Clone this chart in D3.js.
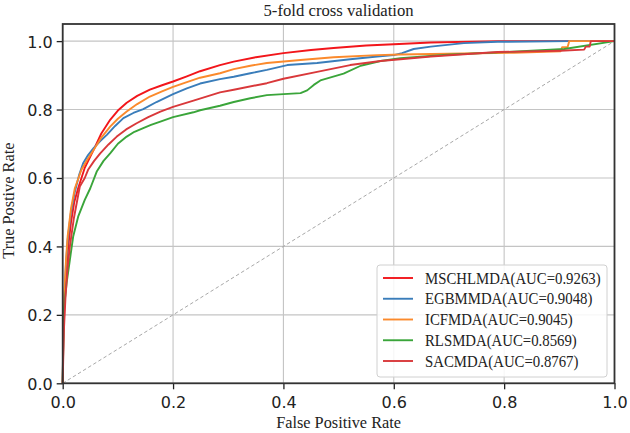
<!DOCTYPE html>
<html><head><meta charset="utf-8">
<script src="https://cdn.jsdelivr.net/npm/d3@7"></script>
<style>body{margin:0;background:#fff}svg{display:block}</style>
</head><body><svg id="c" width="630" height="433"></svg>
<script>
const title = "5-fold cross validation";
const xLabel = "False Positive Rate";
const yLabel = "True Postive Rate";
const xTicks = [0, 0.2, 0.4, 0.6, 0.8, 1.0];
const yTicks = [0, 0.2, 0.4, 0.6, 0.8, 1.0];
const seriesNames = ["MSCHLMDA(AUC=0.9263)", "EGBMMDA(AUC=0.9048)", "ICFMDA(AUC=0.9045)", "RLSMDA(AUC=0.8569)", "SACMDA(AUC=0.8767)"];
const seriesColors = ["#f2161b", "#3a7dba", "#fb8a2c", "#3aa53a", "#d9383a"];

const mschlmda = [[0,0],[0.001,0.12],[0.003,0.22],[0.006,0.32],[0.01,0.40],[0.015,0.47],[0.021,0.53],[0.028,0.57],[0.04,0.63],[0.056,0.682],[0.07,0.73],[0.086,0.77],[0.10,0.797],[0.116,0.82],[0.135,0.84],[0.158,0.858],[0.18,0.871],[0.2,0.882],[0.225,0.897],[0.249,0.912],[0.285,0.930],[0.31,0.940],[0.35,0.953],[0.40,0.965],[0.45,0.974],[0.491,0.980],[0.55,0.987],[0.60,0.991],[0.667,0.996],[0.79,1.0],[1,1]];
const egbmmda = [[0,0],[0.001,0.14],[0.003,0.25],[0.006,0.35],[0.009,0.42],[0.015,0.50],[0.022,0.56],[0.03,0.61],[0.037,0.643],[0.046,0.667],[0.056,0.687],[0.068,0.708],[0.080,0.726],[0.095,0.752],[0.110,0.775],[0.128,0.790],[0.146,0.801],[0.17,0.822],[0.2,0.845],[0.225,0.862],[0.249,0.876],[0.285,0.889],[0.31,0.896],[0.34,0.906],[0.37,0.916],[0.407,0.930],[0.461,0.936],[0.521,0.947],[0.57,0.955],[0.6,0.959],[0.615,0.965],[0.636,0.977],[0.667,0.984],[0.727,0.994],[0.788,0.998],[0.92,1.0],[1,1]];
const icfmda = [[0,0],[0.001,0.15],[0.003,0.26],[0.006,0.36],[0.009,0.43],[0.015,0.51],[0.022,0.57],[0.034,0.624],[0.045,0.655],[0.056,0.682],[0.07,0.718],[0.086,0.750],[0.10,0.773],[0.116,0.794],[0.135,0.816],[0.158,0.838],[0.18,0.853],[0.2,0.866],[0.225,0.880],[0.249,0.893],[0.285,0.906],[0.31,0.918],[0.34,0.928],[0.37,0.936],[0.431,0.945],[0.491,0.953],[0.57,0.959],[0.612,0.961],[0.697,0.963],[0.818,0.966],[0.902,0.970],[0.905,0.982],[0.915,0.982],[0.918,1.0],[1,1]];
const rlsmda = [[0,0],[0.002,0.214],[0.007,0.292],[0.013,0.361],[0.019,0.429],[0.028,0.487],[0.040,0.536],[0.050,0.570],[0.062,0.620],[0.074,0.650],[0.086,0.672],[0.10,0.700],[0.116,0.721],[0.130,0.735],[0.146,0.746],[0.160,0.755],[0.177,0.765],[0.2,0.778],[0.237,0.792],[0.249,0.798],[0.285,0.811],[0.31,0.822],[0.34,0.833],[0.37,0.842],[0.40,0.845],[0.431,0.848],[0.443,0.856],[0.455,0.872],[0.467,0.885],[0.509,0.905],[0.54,0.928],[0.576,0.942],[0.612,0.950],[0.697,0.960],[0.788,0.967],[0.909,0.977],[1,1]];
const sacmda = [[0,0],[0.002,0.15],[0.005,0.25],[0.009,0.34],[0.013,0.40],[0.02,0.48],[0.031,0.575],[0.040,0.60],[0.046,0.624],[0.057,0.650],[0.068,0.672],[0.083,0.698],[0.098,0.721],[0.115,0.742],[0.134,0.760],[0.155,0.778],[0.177,0.794],[0.2,0.808],[0.237,0.826],[0.285,0.850],[0.31,0.858],[0.37,0.877],[0.40,0.890],[0.461,0.910],[0.521,0.930],[0.576,0.942],[0.612,0.947],[0.667,0.955],[0.788,0.968],[0.902,0.972],[0.945,0.975],[0.948,0.984],[0.955,0.984],[0.957,1.0],[1,1]];
const diagonal = [[0,0],[1,1]];

const seriesData = [mschlmda, egbmmda, icfmda, rlsmda, sacmda];

const svg = d3.select("#c");
const L = 62.7, R = 614.5, T = 24, B = 383.3;
const x = d3.scaleLinear().domain([0, 1]).range([L, R]);
const y = d3.scaleLinear().domain([0, 1.05]).range([B, T]);

// grid
const grid = svg.append("g");
grid.selectAll("line.gx").data(xTicks).join("line")
  .attr("x1", d => x(d)).attr("x2", d => x(d)).attr("y1", T).attr("y2", B)
  .attr("stroke", "#c4c4c4").attr("stroke-width", 1.1);
grid.selectAll("line.gy").data(yTicks).join("line")
  .attr("x1", L).attr("x2", R).attr("y1", d => y(d)).attr("y2", d => y(d))
  .attr("stroke", "#c4c4c4").attr("stroke-width", 1.1);

const line = d3.line().x(d => x(d[0])).y(d => y(d[1]));

svg.append("path").datum(diagonal).attr("d", line)
  .attr("fill", "none").attr("stroke", "#a8a8a8").attr("stroke-width", 1)
  .attr("stroke-dasharray", "3.5,2.5");

seriesData.forEach((s, i) => {
  svg.append("path").datum(s).attr("d", line)
    .attr("fill", "none").attr("stroke", seriesColors[i])
    .attr("stroke-width", 1.9).attr("stroke-linejoin", "round");
});

// axes
const fmt = d3.format(".1f");
const xAxis = svg.append("g").attr("transform", `translate(0,${B})`)
  .call(d3.axisBottom(x).tickValues(xTicks).tickFormat(fmt).tickSize(6).tickSizeOuter(0));
const yAxis = svg.append("g").attr("transform", `translate(${L},0)`)
  .call(d3.axisLeft(y).tickValues(yTicks).tickFormat(fmt).tickSize(6).tickSizeOuter(0));
[xAxis, yAxis].forEach(a => {
  a.select(".domain").remove();
  a.selectAll(".tick line").attr("stroke", "#222").attr("stroke-width", 1.3);
  a.selectAll(".tick text").attr("font-family", "DejaVu Sans").attr("font-size", 16).attr("fill", "#222");
});
xAxis.selectAll(".tick text").attr("dy", null).attr("y", 25);
yAxis.selectAll(".tick text").attr("dy", null).attr("x", -10).attr("y", 6);

// spines
svg.append("rect").attr("x", L).attr("y", T).attr("width", R - L).attr("height", B - T)
  .attr("fill", "none").attr("stroke", "#333").attr("stroke-width", 1.8);

// title and labels
svg.append("text").attr("x", (L + R) / 2).attr("y", 15.5).attr("text-anchor", "middle")
  .attr("font-family", "Liberation Serif").attr("font-size", 16.7).attr("fill", "#222").text(title);
svg.append("text").attr("x", (L + R) / 2).attr("y", 428).attr("text-anchor", "middle")
  .attr("font-family", "Liberation Serif").attr("font-size", 16.3).attr("fill", "#222").text(xLabel);
svg.append("text").attr("transform", `translate(14,${(T + B) / 2 - 3}) rotate(-90)`).attr("text-anchor", "middle")
  .attr("font-family", "Liberation Serif").attr("font-size", 16.3).attr("fill", "#222").text(yLabel);

// legend
const lg = svg.append("g");
lg.append("rect").attr("x", 377).attr("y", 265).attr("width", 230).attr("height", 112).attr("rx", 3)
  .attr("fill", "#fff").attr("fill-opacity", 0.85).attr("stroke", "#d0d0d0").attr("stroke-width", 1);
const rowY = d3.scaleLinear().domain([0, 4]).range([278, 361]);
seriesNames.forEach((n, i) => {
  lg.append("line").attr("x1", 383).attr("x2", 413).attr("y1", rowY(i)).attr("y2", rowY(i))
    .attr("stroke", seriesColors[i]).attr("stroke-width", 1.9);
  lg.append("text").attr("transform", `translate(425,${rowY(i) + 5.5}) scale(0.925,1)`)
    .attr("font-family", "Liberation Serif").attr("font-size", 16).attr("fill", "#222").text(n);
});
</script></body></html>
